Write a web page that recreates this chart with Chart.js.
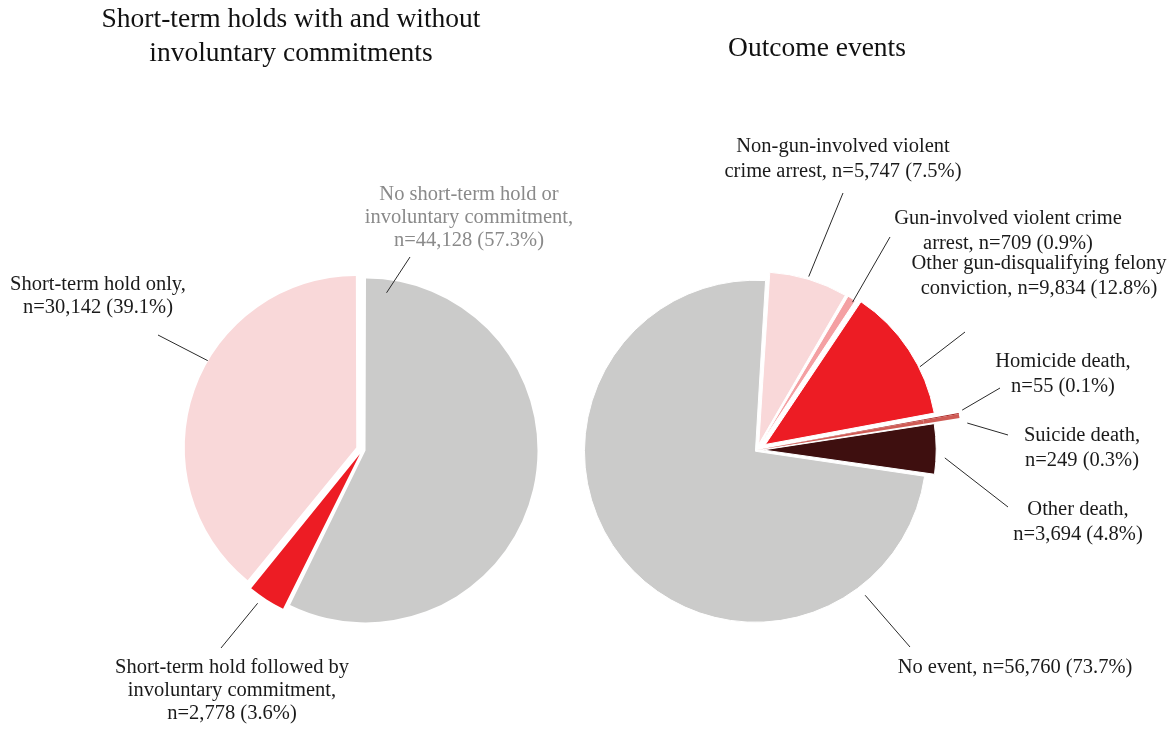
<!DOCTYPE html>
<html>
<head>
<meta charset="utf-8">
<script src="https://cdn.jsdelivr.net/npm/chart.js@4.4.1/dist/chart.umd.min.js"></script>
<style>
body { margin: 0; background: #fff; }
#wrap { position: relative; width: 1170px; height: 731px; }
canvas { position: absolute; left: 0; top: 0; }
.title { position: absolute; font-family: "Liberation Serif", serif; font-size: 27.5px; line-height: 34px; text-align: center; color: #111; }
</style>
</head>
<body>
<div id="wrap">
<canvas id="holdsChart" width="1170" height="731"></canvas>
<canvas id="eventsChart" width="1170" height="731"></canvas>
<div class="title" style="left:91px; top:1px; width:400px;">Short-term holds with and without<br>involuntary commitments</div>
<div class="title" style="left:667px; top:30px; width:300px;">Outcome events</div>
</div>
<script>
// left pie: short-term holds
const holdCategories = ['No short-term hold or involuntary commitment', 'Short-term hold followed by involuntary commitment', 'Short-term hold only'];
const holdCounts = [44128, 2778, 30142];
const holdLabelLines = [
    ['No short-term hold or', 'involuntary commitment,', '{n}'],
    ['Short-term hold followed by', 'involuntary commitment,', '{n}'],
    ['Short-term hold only,', '{n}']
];

// right pie: outcome events
const eventCategories = ['Non-gun-involved violent crime arrest', 'Gun-involved violent crime arrest', 'Other gun-disqualifying felony conviction', 'Homicide death', 'Suicide death', 'Other death', 'No event'];
const eventCounts = [5747, 709, 9834, 55, 249, 3694, 56760];
const eventLabelLines = [
    ['Non-gun-involved violent', 'crime arrest, {n}'],
    ['Gun-involved violent crime', 'arrest, {n}'],
    ['Other gun-disqualifying felony', 'conviction, {n}'],
    ['Homicide death,', '{n}'],
    ['Suicide death,', '{n}'],
    ['Other death,', '{n}'],
    ['No event, {n}']
];

// styles
const holdColors = ['#cbcbca', '#ed1c24', '#f9d8d9'];
const holdOffsets = [12, 20, 27];
const eventColors = ['#f9d8d9', '#f4a0a3', '#ed1c24', '#a8201f', '#cf5b55', '#3e0f0f', '#cbcbca'];
const eventOffsets = [24, 20, 40, 0, 0, 24, 8];
const eventBorders = [1, 1, 1, 0, 0, 1, 1];
// the two death slivers stick out past the rim: an outer ring shows only them
const clear = 'rgba(0,0,0,0)';
const eventTipColors = [clear, clear, clear, '#a8201f', '#cf5b55', clear, clear];

// where each callout sits: text centre, outer end of leader, and the
// inner end as an angle (deg clockwise from top) and radius on its slice
const holdLayout = [
    {x: 469, y: 195, lx: 410, ly: 257, angle: 7.6, r: 159, color: '#8a8a8a'},
    {x: 232, y: 668, lx: 221, ly: 648, angle: 214.4, r: 181},
    {x: 98, y: 285, lx: 158, ly: 335, angle: 300.3, r: 172}
];
const eventLayout = [
    {x: 843, y: 147, lx: 843, ly: 193, angle: 16.6, r: 175},
    {x: 1008, y: 219, lx: 890, ly: 237, angle: 32.9, r: 171},
    {x: 1039, y: 264, lx: 965, ly: 332, angle: 63.3, r: 173},
    {x: 1063, y: 362, lx: 1000, ly: 388, angle: 79.0, r: 209},
    {x: 1082, y: 436, lx: 1008, ly: 435, angle: 82.7, r: 212},
    {x: 1078, y: 510, lx: 1008, ly: 507, angle: 92.5, r: 182},
    {x: 1015, y: 668, lx: 910, ly: 647, angle: 142.7, r: 181}
];

function countText(value, total)
{
    return 'n=' + value.toLocaleString('en-US') + ' (' + (value / total * 100).toFixed(1) + '%)';
}

// draws the leader lines and the multi-line labels next to each slice
function makeCallouts(layout, lines, lineGap)
{
    return {
        id: 'callouts',
        afterDatasetsDraw: function(chart) {
            const ctx = chart.ctx;
            const last = chart.data.datasets.length - 1;
            const meta = chart.getDatasetMeta(last);
            const values = chart.data.datasets[last].data;
            const total = values.reduce((a, b) => a + b, 0);
            ctx.save();
            ctx.font = '20.5px "Liberation Serif"';
            ctx.textAlign = 'center';
            ctx.textBaseline = 'middle';
            layout.forEach(function(pos, i) {
                const arc = meta.data[i];
                const half = (arc.startAngle + arc.endAngle) / 2;
                const shift = (arc.options.offset || 0) / 4;
                const cx = arc.x + Math.cos(half) * shift;
                const cy = arc.y + Math.sin(half) * shift;
                const a = (pos.angle - 90) * Math.PI / 180;
                ctx.strokeStyle = '#2a2a2a';
                ctx.lineWidth = 1;
                ctx.beginPath();
                ctx.moveTo(pos.lx, pos.ly);
                ctx.lineTo(cx + Math.cos(a) * pos.r, cy + Math.sin(a) * pos.r);
                ctx.stroke();
                ctx.fillStyle = pos.color || '#1a1a1a';
                lines[i].forEach(function(t, k) {
                    ctx.fillText(t.replace('{n}', countText(values[i], total)), pos.x, pos.y + k * lineGap);
                });
            });
            ctx.restore();
        }
    };
}

function drawPie(id, labels, datasets, radius, rotation, padding, callouts)
{
    const ctx = document.getElementById(id).getContext('2d');
    return new Chart(ctx, {
        type: 'pie',
        data: {
            labels: labels,
            datasets: datasets
        },
        options: {
            responsive: false,
            animation: false,
            events: [],
            radius: radius,
            rotation: rotation,
            layout: { padding: padding },
            plugins: {
                legend: { display: false },
                tooltip: { enabled: false }
            }
        },
        plugins: [callouts]
    });
}

drawPie('holdsChart', holdCategories, [{
        data: holdCounts,
        backgroundColor: holdColors,
        offset: holdOffsets,
        borderWidth: 0,
        hoverOffset: 0,
        clip: false
    }], 169, 0,
    {left: 162.6, right: 607.4, top: 249.7, bottom: 81.3},
    makeCallouts(holdLayout, holdLabelLines, 23));

drawPie('eventsChart', eventCategories, [{
        data: eventCounts,
        backgroundColor: eventTipColors,
        borderWidth: 0,
        hoverOffset: 0,
        weight: 36,
        clip: false
    }, {
        data: eventCounts,
        backgroundColor: eventColors,
        offset: eventOffsets,
        borderWidth: eventBorders,
        borderColor: '#ffffff',
        hoverOffset: 0,
        weight: 169,
        clip: false
    }], 205, 3.5,
    {left: 557, right: 213, top: 250, bottom: 81},
    makeCallouts(eventLayout, eventLabelLines, 25));
</script>
</body>
</html>
